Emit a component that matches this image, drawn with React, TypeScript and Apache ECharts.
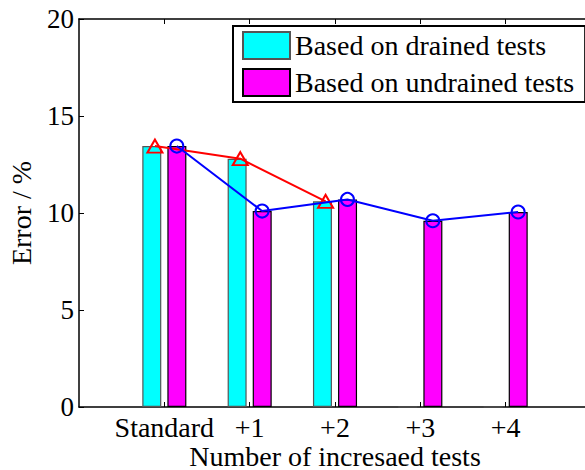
import React, { useEffect, useRef } from "react";
import * as echarts from "echarts";

const categories = ["Standard", "+1", "+2", "+3", "+4"];
const drainedBars = [13.45, 12.8, 10.6, 0, 0];
const undrainedBars = [13.45, 10.1, 10.7, 9.6, 10.05];
const drainedLine = [13.45, 12.8, 10.6];
const undrainedLine = [13.45, 10.1, 10.7, 9.6, 10.05];
const legendNames = ["Based on drained tests", "Based on undrained tests"];
const yMin = 0;
const yMax = 20;
const yStep = 5;

const FONT = '"Liberation Serif", "Times New Roman", serif';
const slots = ["", ...categories, ""];
const inRange = (i: number) => i >= 1 && i <= categories.length;
const RED_SHIFT = -0.11;
const BLUE_SHIFT = 0.146;

export default function App() {
  const ref = useRef<HTMLDivElement>(null);
  useEffect(() => {
    if (!ref.current) return;
    const chart = echarts.init(ref.current, null, { renderer: "svg" });
    const axisLine = { show: true, lineStyle: { color: "#000", width: 1.5 } };
    chart.setOption({
      animation: false,
      backgroundColor: "#fff",
      grid: { left: 79, top: 19, right: -6, bottom: 63, containLabel: false, outerBoundsMode: "none" },
      legend: {
        data: legendNames,
        orient: "vertical",
        left: 233,
        top: 26,
        padding: [5, 11, 5, 9],
        itemGap: 8,
        itemWidth: 47,
        itemHeight: 27,
        icon: "rect",
        borderColor: "#000",
        borderWidth: 2,
        backgroundColor: "#fff",
        textStyle: { fontFamily: FONT, fontSize: 28, color: "#000" },
      },
      xAxis: [
        {
          type: "category",
          position: "bottom",
          data: slots,
          boundaryGap: false,
          axisLine,
          axisTick: { show: true, inside: true, length: 5, interval: (i: number) => inRange(i), lineStyle: { color: "#000" } },
          axisLabel: { interval: (i: number) => inRange(i), fontFamily: FONT, fontSize: 28, lineHeight: 28, color: "#000", margin: 6 },
          splitLine: { show: false },
          name: "Number of incresaed tests",
          nameLocation: "middle",
          nameGap: 35,
          nameMoveOverlap: false,
          nameTextStyle: { fontFamily: FONT, fontSize: 28, lineHeight: 28, color: "#000" },
        },
        {
          type: "category",
          position: "top",
          data: slots,
          boundaryGap: false,
          axisLine,
          axisTick: { show: true, inside: true, length: 5, interval: (i: number) => inRange(i), lineStyle: { color: "#000" } },
          axisLabel: { show: false },
          splitLine: { show: false },
        },
        {
          type: "value",
          min: 0,
          max: slots.length - 1,
          show: false,
        },
      ],
      yAxis: {
        type: "value",
        min: yMin,
        max: yMax,
        interval: yStep,
        axisLine,
        axisTick: { show: true, inside: true, length: 5, lineStyle: { color: "#000" } },
        axisLabel: { fontFamily: FONT, fontSize: 27, color: "#000", margin: 5 },
        splitLine: { show: false },
        name: "Error / %",
        nameLocation: "middle",
        nameGap: 44,
        nameMoveOverlap: false,
        nameTextStyle: { fontFamily: FONT, fontSize: 28, color: "#000" },
      },
      series: [
        {
          name: legendNames[0],
          type: "bar",
          xAxisIndex: 0,
          data: [null, ...drainedBars, null],
          barWidth: 19,
          barGap: "32%",
          itemStyle: { color: "#00FFFF", borderColor: "#555", borderWidth: 1.2 },
        },
        {
          name: legendNames[1],
          type: "bar",
          xAxisIndex: 0,
          data: [null, ...undrainedBars, null],
          barWidth: 19,
          barGap: "32%",
          itemStyle: { color: "#FF00FF", borderColor: "#000", borderWidth: 1.2 },
        },
        {
          name: "drained line",
          type: "line",
          xAxisIndex: 2,
          data: drainedLine.map((v, i) => [i + 1 + RED_SHIFT, v]),
          symbol: "triangle",
          symbolSize: [15, 13],
          lineStyle: { color: "#FF0000", width: 2 },
          itemStyle: { color: "rgba(0,0,0,0)", borderColor: "#FF0000", borderWidth: 2 },
          z: 5,
        },
        {
          name: "undrained line",
          type: "line",
          xAxisIndex: 2,
          data: undrainedLine.map((v, i) => [i + 1 + BLUE_SHIFT, v]),
          symbol: "circle",
          symbolSize: 13,
          lineStyle: { color: "#0000FF", width: 2 },
          itemStyle: { color: "rgba(0,0,0,0)", borderColor: "#0000FF", borderWidth: 2 },
          z: 6,
        },
      ],
    });
    return () => chart.dispose();
  }, []);
  return (
    <div
      ref={ref}
      style={{ position: "absolute", left: 0, top: 0, width: 585, height: 470 }}
    />
  );
}
